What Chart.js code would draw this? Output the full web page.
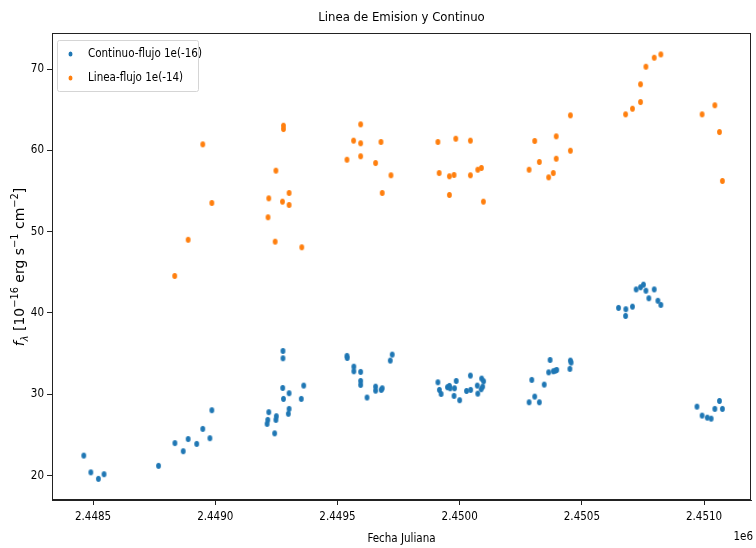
<!DOCTYPE html>
<html>
<head>
<meta charset="utf-8">
<script src="https://cdn.jsdelivr.net/npm/chart.js@4/dist/chart.umd.min.js"></script>
<style>
  html, body { margin: 0; padding: 0; background: #fff; }
  #wrap { width: 756px; height: 548px; }
</style>
</head>
<body>
<div id="wrap"><canvas id="chart" width="756" height="548"></canvas></div>
<script>
// Continuo (flujo 1e-16) : fecha juliana / flujo
const contDate = [
  2448462, 2448491, 2448522, 2448545, 2448768, 2448835, 2448869, 2448889, 2448924, 2448949, 2448978, 2448986,
  2449212, 2449215, 2449219, 2449243, 2449248, 2449250, 2449277, 2449277, 2449276, 2449279, 2449302, 2449302,
  2449299, 2449352, 2449362,
  2449539, 2449540, 2449567, 2449567, 2449595, 2449595, 2449595, 2449621, 2449656, 2449656, 2449679, 2449683,
  2449716, 2449724,
  2449911, 2449917, 2449924, 2449950, 2449958, 2449961, 2449977, 2449979, 2449986, 2450000, 2450028, 2450045,
  2450044, 2450072, 2450074, 2450088, 2450090, 2450094, 2450098,
  2450284, 2450295, 2450307, 2450326, 2450346, 2450364, 2450370, 2450383, 2450391, 2450397, 2450451, 2450453,
  2450456,
  2450650, 2450680, 2450679, 2450707, 2450722, 2450740, 2450752, 2450762, 2450774, 2450796, 2450811, 2450823,
  2450971, 2450992, 2451013, 2451029, 2451044, 2451063, 2451075
];
const contFlux = [
  22.46, 20.40, 19.60, 20.17, 21.20, 24.00, 23.00, 24.50, 23.90, 25.74, 24.60, 28.04,
  26.36, 26.85, 27.80, 25.20, 26.85, 27.30, 35.33, 34.43, 30.78, 29.43, 30.13, 28.20,
  27.60, 29.43, 31.07,
  34.72, 34.47, 33.40, 32.83, 32.75, 31.64, 31.15, 29.60, 30.94, 30.45, 30.54, 30.74,
  34.14, 34.88,
  31.48, 30.54, 30.04, 30.87, 31.03, 30.74, 29.80, 30.74, 31.64, 29.27, 30.41, 30.54,
  32.30, 31.07, 30.08, 30.62, 31.93, 30.94, 31.60,
  29.02, 31.77, 29.72, 29.02, 31.19, 32.70, 34.22, 32.83, 32.90, 32.99, 33.12, 34.14,
  33.90,
  40.62, 40.46, 39.63, 40.78, 42.90, 43.16, 43.48, 42.74, 41.81, 42.90, 41.50, 40.99,
  28.48, 27.38, 27.13, 27.00, 28.20, 29.18, 28.20
];

// Linea (flujo 1e-14)
const lineDate = [
  2448834, 2448889, 2448949, 2448986,
  2449216, 2449219, 2449245, 2449248, 2449275, 2449279, 2449279, 2449302, 2449302, 2449354,
  2449539, 2449566, 2449595, 2449595, 2449595, 2449656, 2449678, 2449683, 2449719,
  2449911, 2449916, 2449958, 2449958, 2449977, 2449984, 2450044, 2450044, 2450074, 2450089, 2450097,
  2450284, 2450307, 2450326, 2450364, 2450383, 2450395, 2450395, 2450453, 2450453,
  2450679, 2450707, 2450740, 2450740, 2450762, 2450796, 2450823,
  2450992, 2451044, 2451063, 2451075
];
const lineFlux = [
  44.55, 49.00, 60.74, 53.53,
  51.77, 54.10, 48.77, 57.50, 53.69, 63.03, 62.62, 54.76, 53.28, 48.08,
  58.85, 61.19, 63.20, 60.87, 59.27, 58.44, 61.03, 54.76, 56.93,
  61.03, 57.21, 56.81, 54.51, 56.97, 61.43, 61.19, 56.93, 57.62, 57.83, 53.69,
  57.62, 61.15, 58.57, 56.68, 57.21, 61.72, 58.97, 64.30, 59.95,
  64.43, 65.12, 65.94, 68.12, 70.28, 71.39, 71.80,
  64.43, 65.54, 62.25, 56.23
];

const seriesLabels = ['Continuo-flujo 1e(-16)', 'Linea-flujo 1e(-14)'];
const xTicks = [2448500, 2449000, 2449500, 2450000, 2450500, 2451000];
const yTicks = [20, 30, 40, 50, 60, 70];

const BLUE = '#1f77b4';
const ORANGE = '#ff7f0e';
const FONT = '"DejaVu Sans Condensed", "Liberation Sans Narrow", "DejaVu Sans", sans-serif';

// puntos ligeramente ovalados como en la imagen
function dot(color, w, h) {
  const c = document.createElement('canvas');
  c.width = Math.ceil(w) + 2; c.height = Math.ceil(h) + 2;
  const g = c.getContext('2d');
  g.fillStyle = color;
  g.beginPath();
  g.ellipse(c.width / 2, c.height / 2, w / 2, h / 2, 0, 0, Math.PI * 2);
  g.fill();
  return c;
}

const pts = (xs, ys) => xs.map((x, i) => ({ x: x, y: ys[i] }));

const decor = {
  id: 'decor',
  afterDraw(chart) {
    const ctx = chart.ctx;
    const a = chart.chartArea;
    ctx.save();
    // marco
    ctx.strokeStyle = '#222';
    ctx.lineWidth = 1;
    ctx.strokeRect(Math.round(a.left) + 0.5, Math.round(a.top) + 0.5,
      Math.round(a.right - a.left) - 1, Math.round(a.bottom - a.top) - 1);

    // leyenda
    const lx = 57.5, ly = 40.5, lw = 141, lh = 51;
    ctx.fillStyle = 'rgba(255,255,255,0.8)';
    ctx.strokeStyle = '#d5d5d5';
    ctx.beginPath();
    ctx.roundRect(lx, ly, lw, lh, 2);
    ctx.fill();
    ctx.stroke();
    ctx.font = '11.5px ' + FONT;
    ctx.textBaseline = 'middle';
    chart.data.datasets.forEach((ds, i) => {
      const y = 54 + i * 24;
      ctx.fillStyle = ds.backgroundColor;
      ctx.beginPath();
      ctx.ellipse(70.5, y, 2, 2.6, 0, 0, Math.PI * 2);
      ctx.fill();
      ctx.fillStyle = '#000';
      ctx.fillText(ds.label, 88, y);
    });

    // offset del eje x
    ctx.font = '11.5px ' + FONT;
    ctx.textAlign = 'right';
    ctx.fillText('1e6', 753, 537);

    // etiqueta del eje y con sub/superindices
    const size = 14;
    const parts = [
      { t: 'f', s: 1, dy: 0, it: true },
      { t: 'λ', s: 0.7, dy: 0.25, it: true },
      { t: ' [10', s: 1, dy: 0 },
      { t: '−16', s: 0.7, dy: -0.4 },
      { t: ' erg s', s: 1, dy: 0 },
      { t: '−1', s: 0.7, dy: -0.4 },
      { t: ' cm', s: 1, dy: 0 },
      { t: '−2', s: 0.7, dy: -0.4 },
      { t: ']', s: 1, dy: 0 }
    ];
    const fontOf = p => (p.it ? 'italic ' : '') + (size * p.s) + 'px "DejaVu Sans", sans-serif';
    let total = 0;
    parts.forEach(p => { ctx.font = fontOf(p); p.w = ctx.measureText(p.t).width; total += p.w; });
    ctx.translate(19, 267);
    ctx.rotate(-Math.PI / 2);
    ctx.textAlign = 'left';
    ctx.textBaseline = 'alphabetic';
    let x = -total / 2;
    parts.forEach(p => {
      ctx.font = fontOf(p);
      ctx.fillText(p.t, x, 5 + p.dy * size);
      x += p.w;
    });
    ctx.restore();
  }
};

const tickFont = { family: FONT, size: 11.5 };

new Chart(document.getElementById('chart'), {
  type: 'scatter',
  data: {
    datasets: [
      {
        label: seriesLabels[0],
        data: pts(contDate, contFlux),
        backgroundColor: BLUE,
        pointStyle: dot(BLUE, 4.8, 6),
      },
      {
        label: seriesLabels[1],
        data: pts(lineDate, lineFlux),
        backgroundColor: ORANGE,
        pointStyle: dot(ORANGE, 4.8, 6),
      },
    ],
  },
  options: {
    responsive: false,
    animation: false,
    events: [],
    layout: { padding: { left: 0, right: 4, top: 0, bottom: 0 } },
    plugins: {
      legend: { display: false },
      tooltip: { enabled: false },
      title: {
        display: true,
        fullSize: false,
        text: 'Linea de Emision y Continuo',
        color: '#000',
        font: { family: FONT, size: 13, weight: 'normal' },
        padding: { top: 10, bottom: 7.4 },
      },
    },
    scales: {
      x: {
        type: 'linear',
        min: 2448332,
        max: 2451192,
        afterBuildTicks: s => { s.ticks = xTicks.map(v => ({ value: v })); },
        afterFit: s => { s.height = 48; },
        ticks: {
          color: '#000',
          font: tickFont,
          padding: 5,
          maxRotation: 0,
          autoSkip: false,
          callback: v => (v / 1e6).toFixed(4),
        },
        grid: { drawOnChartArea: false, drawTicks: true, tickLength: 5, color: '#222' },
        border: { display: true, color: '#222' },
        title: {
          display: true,
          text: 'Fecha Juliana',
          color: '#000',
          font: { family: FONT, size: 11.5 },
          padding: { top: 0, bottom: 2 },
        },
      },
      y: {
        type: 'linear',
        min: 17.0,
        max: 74.43,
        afterBuildTicks: s => { s.ticks = yTicks.map(v => ({ value: v })); },
        afterFit: s => { s.width = 52; },
        ticks: { color: '#000', font: tickFont, padding: 3 },
        grid: { drawOnChartArea: false, drawTicks: true, tickLength: 5, color: '#222' },
        border: { display: true, color: '#222' },
      },
    },
  },
  plugins: [decor],
});
</script>
</body>
</html>
